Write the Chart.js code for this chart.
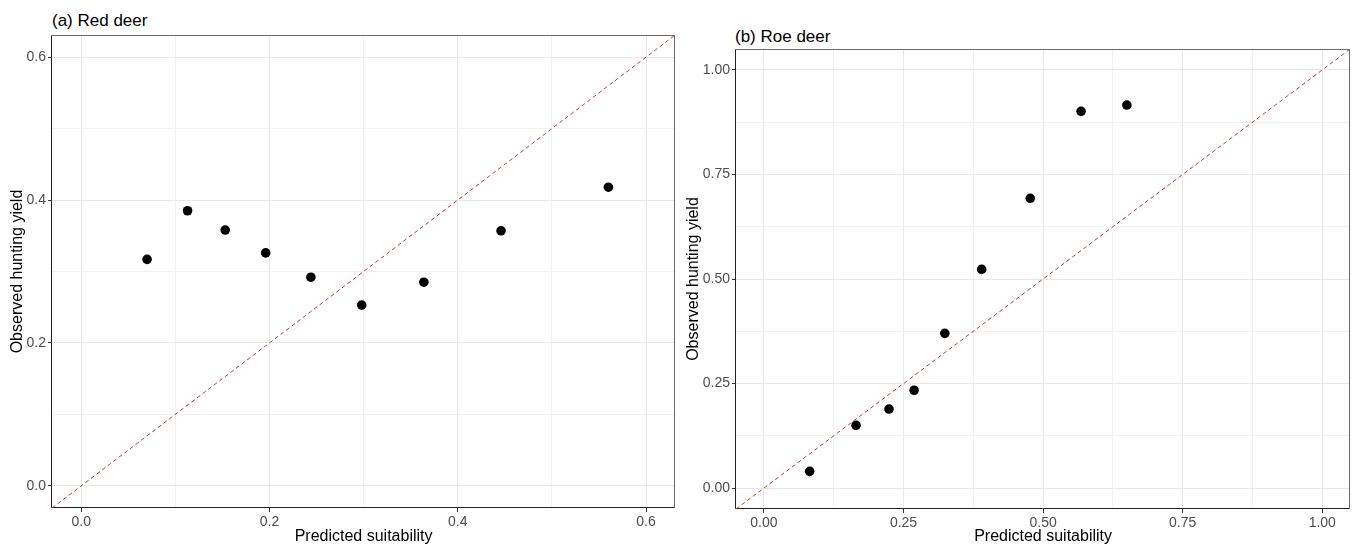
<!DOCTYPE html>
<html><head><meta charset="utf-8">
<script src="https://cdn.jsdelivr.net/npm/chart.js@4.4.1/dist/chart.umd.min.js"></script>
<style>
html,body{margin:0;padding:0;background:#fff;width:1355px;height:546px;overflow:hidden;}
#wrap{position:relative;width:1355px;height:546px;}
canvas{position:absolute;top:0;}
.ptitle{position:absolute;font-family:"Liberation Sans",Arial,sans-serif;font-size:17px;line-height:20px;color:#000;white-space:nowrap;}
</style></head>
<body><div id="wrap">
<div class="ptitle" id="ta" style="left:52px;top:11px;"></div>
<div class="ptitle" id="tb" style="left:735px;top:27px;"></div>
<canvas id="ca" width="680" height="546" style="left:0;width:680px;height:546px"></canvas>
<canvas id="cb" width="675" height="546" style="left:680px;width:675px;height:546px"></canvas>
</div>
<script>
// ---- data ----
const titleA = '(a) Red deer';
const titleB = '(b) Roe deer';
const xTitle = 'Predicted suitability';
const yTitle = 'Observed hunting yield';

const redPred = [0.070, 0.113, 0.153, 0.196, 0.244, 0.298, 0.364, 0.446, 0.560];
const redObs  = [0.317, 0.385, 0.358, 0.326, 0.292, 0.253, 0.285, 0.357, 0.418];
const roePred = [0.082, 0.165, 0.224, 0.269, 0.324, 0.390, 0.477, 0.568, 0.650];
const roeObs  = [0.040, 0.150, 0.189, 0.234, 0.370, 0.523, 0.693, 0.901, 0.916];

const redTicks = ['0.0', '0.2', '0.4', '0.6'];
const roeTicks = ['0.00', '0.25', '0.50', '0.75', '1.00'];

const redLimits = [-0.031, 0.631];
const roeLimits = [-0.05, 1.05];

// ---- rendering ----
const FONT = '"Liberation Sans", Arial, sans-serif';
document.getElementById('ta').textContent = titleA;
document.getElementById('tb').textContent = titleB;

const frame = {
  id: 'frame',
  beforeDatasetsDraw(chart) {
    const {ctx, chartArea: a} = chart;
    const l = Math.round(a.left) - 0.5, r = Math.round(a.right) - 0.5;
    const t = Math.round(a.top) + 0.5, b = Math.round(a.bottom) - 0.5;
    ctx.save();
    ctx.lineWidth = 1;
    ctx.strokeStyle = '#6a6a6a';
    ctx.beginPath(); ctx.moveTo(l, t); ctx.lineTo(r, t); ctx.lineTo(r, b); ctx.stroke();
    ctx.strokeStyle = '#222';
    ctx.beginPath(); ctx.moveTo(l, t); ctx.lineTo(l, b); ctx.lineTo(r, b); ctx.stroke();
    ctx.restore();
  }
};

function axis(labels, lim, isX, size, titlePad) {
  const major = labels.map(Number);
  const minor = major.slice(1).map((v, i) => (v + major[i]) / 2);
  const all = major.concat(minor).sort((a, b) => a - b);
  const isMajor = v => major.some(m => Math.abs(m - v) < 1e-9);
  return {
    type: 'linear', min: lim[0], max: lim[1],
    afterBuildTicks: s => { s.ticks = all.map(v => ({value: v})); },
    afterFit: s => { if (isX) s.height = size; else s.width = size; },
    ticks: {
      autoSkip: false, maxRotation: 0, minRotation: 0, padding: 2, color: '#4D4D4D',
      font: {family: FONT, size: 14},
      callback: v => { const i = major.findIndex(m => Math.abs(m - v) < 1e-9); return i >= 0 ? labels[i] : ''; }
    },
    grid: {
      color: c => (c.tick && isMajor(c.tick.value)) ? '#E8E8E8' : '#F2F2F2',
      lineWidth: 1, drawTicks: true, tickLength: 4, tickWidth: 1,
      tickColor: c => (c.tick && isMajor(c.tick.value)) ? '#333333' : 'rgba(0,0,0,0)'
    },
    border: {display: false},
    title: {display: true, text: isX ? xTitle : yTitle, color: '#000',
      font: {family: FONT, size: 16}, padding: {top: titlePad, bottom: 0}}
  };
}

function panel(id, xs, ys, labels, lim, yW, xH, pad, yTitlePad) {
  new Chart(document.getElementById(id), {
    data: {
      datasets: [
        {type: 'line', data: [{x: lim[0], y: lim[0]}, {x: lim[1], y: lim[1]}],
         borderColor: '#B8403D', borderWidth: 1, borderDash: [4, 3], pointRadius: 0, fill: false},
        {type: 'scatter', data: xs.map((x, i) => ({x: x, y: ys[i]})),
         backgroundColor: '#000', borderWidth: 0, pointRadius: 4.8}
      ]
    },
    options: {
      responsive: false, animation: false, devicePixelRatio: 1,
      layout: {padding: pad},
      plugins: {legend: {display: false}, tooltip: {enabled: false}},
      scales: {
        x: axis(labels, lim, true, xH, 0),
        y: axis(labels, lim, false, yW, yTitlePad)
      }
    },
    plugins: [frame]
  });
}

panel('ca', redPred, redObs, redTicks, redLimits, 52, 38, {top: 35, right: 3, left: 0, bottom: 0}, 8);
panel('cb', roePred, roeObs, roeTicks, roeLimits, 56, 37, {top: 49, right: 2, left: 0, bottom: 0}, 4);
</script>
</body></html>
